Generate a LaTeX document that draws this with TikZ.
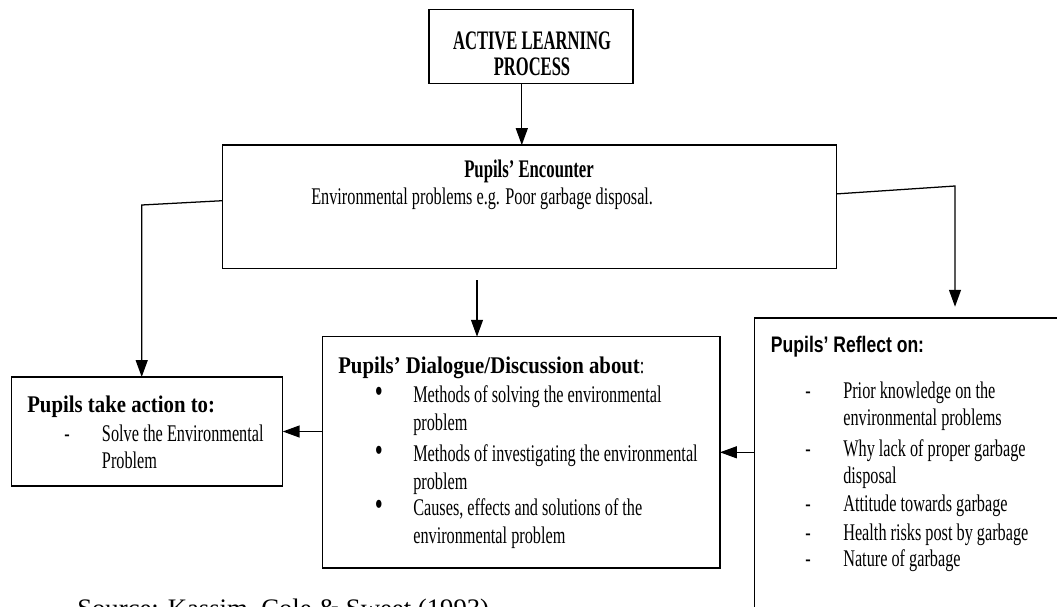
\documentclass[tikz,border=0pt]{standalone}
\usepackage{fontspec}
\setmainfont{Liberation Serif}
\newfontfamily\bodyfont{Liberation Serif}[FakeStretch=0.68]
\newfontfamily\headfont{Liberation Serif}[FakeStretch=0.87]
\newfontfamily\topfont{Liberation Serif}[FakeStretch=0.62]
\newfontfamily\encfont{Liberation Serif}[FakeStretch=0.66]
\newfontfamily\reffont{Liberation Sans}[FakeStretch=0.78]
\usetikzlibrary{arrows.meta}
\tikzset{box/.style={draw, line width=1pt, inner sep=0pt, outer sep=0pt},
  txt/.style={anchor=base west, inner sep=0pt, font=\bodyfont\fontsize{17}{20}\selectfont},
  ttl/.style={anchor=base west, inner sep=0pt, font=\headfont\bfseries\fontsize{17}{20}\selectfont},
  mrk/.style={anchor=base, inner sep=0pt, font=\bodyfont\fontsize{17}{20}\selectfont},
  dot/.style={anchor=base, inner sep=0pt, font=\bodyfont\fontsize{24}{20}\selectfont},
  top/.style={anchor=base, inner sep=0pt, font=\topfont\bfseries\fontsize{19}{20}\selectfont},
  arr/.style={line width=0.9pt, -{Triangle[length=12pt,width=8.5pt]}}}

\begin{document}
\begin{tikzpicture}[x=0.025cm, y=-0.025cm]
  \useasboundingbox (0,0) rectangle (1057,606);
  \clip (0,0) rectangle (1057,606);

  % boxes
  \node [box, minimum width=5.1cm, minimum height=1.85cm] (alp) at (531,46.3) {};
  \node [box, minimum width=15.35cm, minimum height=3.08cm] (enc) at (529.5,206.7) {};
  \node [box, minimum width=6.775cm, minimum height=2.725cm] (act) at (147.2,431.5) {};
  \node [box, minimum width=9.93cm, minimum height=5.78cm] (dia) at (521.3,452.3) {};
  \node [box, minimum width=8cm, minimum height=7.6cm] (ref) at (914.7,470) {};

  % top box
  \node [top] (alp1) at (532,49.3) {ACTIVE LEARNING};
  \node [top] (alp2) at (532,75) {PROCESS};

  % encounter
  \node [anchor=base, inner sep=0pt, font=\encfont\bfseries\fontsize{18}{20}\selectfont] (enct) at (529,177) {Pupils’ Encounter};
  \node [txt] (encs) at (311,204) {Environmental problems e.g. Poor garbage disposal.};

  % action
  \node [ttl] (actt) at (27,412) {Pupils take action to:};
  \node [mrk] (actm) at (67,441.7) {-};
  \node [txt] (act1) at (101.7,441.7) {Solve the Environmental};
  \node [txt] (act2) at (101.7,468) {Problem};

  % dialogue
  \node [txt] (diat) at (338,373) {{\headfont\bfseries Pupils’ Dialogue/Discussion about}:};
  \node [dot] (diam1) at (379,402.7) {•};
  \node [txt] (dia1) at (413,402.7) {Methods of solving the environmental};
  \node [txt] (dia2) at (413,430) {problem};
  \node [dot] (diam2) at (379,461.7) {•};
  \node [txt] (dia3) at (413,461.7) {Methods of investigating the environmental};
  \node [txt] (dia4) at (413,489) {problem};
  \node [dot] (diam3) at (379,515) {•};
  \node [txt] (dia5) at (413,515) {Causes, effects and solutions of the};
  \node [txt] (dia6) at (413,543) {environmental problem};

  % reflect
  \node [anchor=base west, inner sep=0pt, font=\reffont\bfseries\fontsize{16}{20}\selectfont] (reft) at (770.7,352.7) {Pupils’ Reflect on:};
  \node [mrk] (refm1) at (808,398) {-};
  \node [txt] (ref1) at (843,398) {Prior knowledge on the};
  \node [txt] (ref2) at (843,425) {environmental problems};
  \node [mrk] (refm2) at (808,456.7) {-};
  \node [txt] (ref3) at (843,456.7) {Why lack of proper garbage};
  \node [txt] (ref4) at (843,483) {disposal};
  \node [mrk] (refm3) at (808,511.7) {-};
  \node [txt] (ref5) at (843,511.7) {Attitude towards garbage};
  \node [mrk] (refm4) at (808,540) {-};
  \node [txt] (ref6) at (843,540) {Health risks post by garbage};
  \node [mrk] (refm5) at (808,566.7) {-};
  \node [txt] (ref7) at (843,566.7) {Nature of garbage};

  % source line, cut off at the bottom
  \node [anchor=base west, inner sep=0pt, font=\fontsize{19}{20}\selectfont] (src) at (77,617) {Source: Kassim, Cole \& Sweet (1993)};

  % connectors
  \coordinate (lk) at (141.7,205);
  \coordinate (rk) at (955,186);
  \coordinate (rt) at (955,306.7);
  \coordinate (mt) at (477,280);
  \draw [arr] ([xshift=-0.23cm]alp.south) -- ([xshift=-0.23cm]alp.south |- enc.north);
  \draw [arr] ([yshift=0.15cm]enc.west) -- (lk) -- (lk |- act.north);
  \draw [arr] ([yshift=0.32cm]enc.east) -- (rk) -- (rt);
  \draw [arr] (mt) -- (mt |- dia.north);
  \draw [arr] (ref.west |- dia.east) -- (dia.east);
  \draw [arr] (dia.west |- act.east) -- (act.east);
\end{tikzpicture}
\end{document}
